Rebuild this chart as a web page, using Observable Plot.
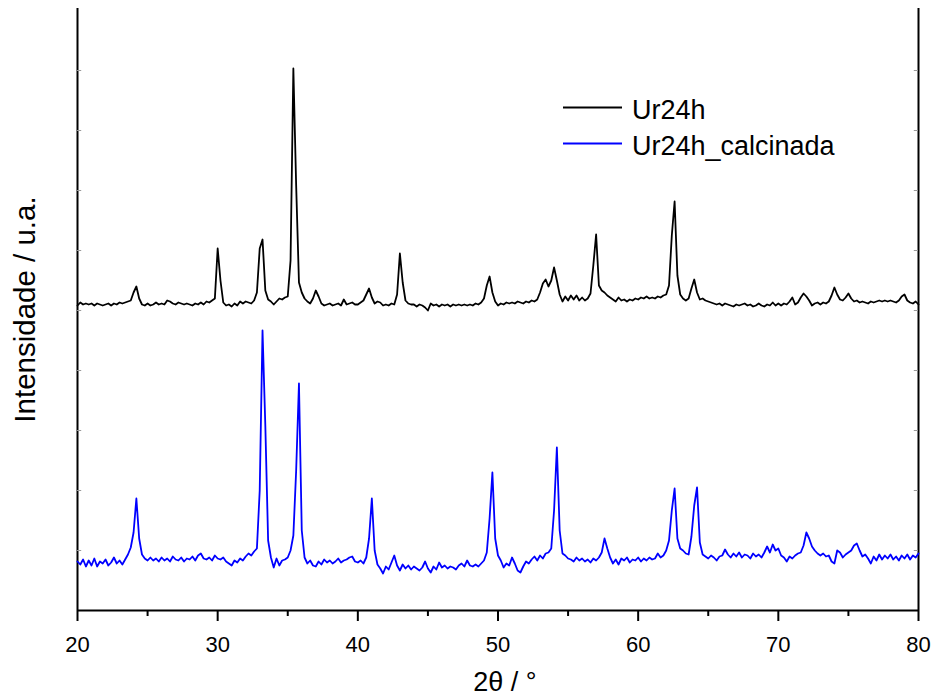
<!DOCTYPE html>
<html>
<head>
<meta charset="utf-8">
<script src="https://cdn.jsdelivr.net/npm/d3@7"></script>
<script src="https://cdn.jsdelivr.net/npm/@observablehq/plot@0.6"></script>
<style>
  html, body { margin: 0; padding: 0; background: #fff; }
  #wrap { position: relative; width: 933px; height: 700px; font-family: "Liberation Sans", Arial, sans-serif; }
  #legend { position: absolute; left: 0; top: 0; pointer-events: none; }
</style>
</head>
<body>
<div id="wrap"></div>
<script>
// ---- data (2θ grid: start 20°, step 0.2°) ----
const twoThetaStart = 20;
const twoThetaStep = 0.2;

const ur24h = [
  305, 308, 306, 307, 306, 307, 305, 307, 306, 305,
  306, 307, 305, 307, 306, 308, 307, 308, 309, 310,
  318, 324, 312, 306, 305, 307, 305, 306, 308, 306,
  307, 306, 310, 309, 307, 306, 308, 307, 306, 307,
  306, 305, 307, 306, 308, 306, 309, 308, 310, 312,
  362, 330, 308, 305, 306, 304, 307, 305, 309, 307,
  309, 308, 307, 310, 318, 362, 371, 320, 311, 309,
  306, 309, 312, 311, 313, 314, 350, 542, 425, 328,
  318, 312, 309, 307, 312, 320, 314, 307, 305, 306,
  307, 305, 306, 307, 305, 311, 306, 307, 308, 306,
  306, 308, 310, 316, 322, 313, 307, 309, 308, 305,
  306, 305, 307, 306, 316, 357, 328, 310, 307, 306,
  306, 304, 306, 305, 303, 300, 307, 305, 306, 304,
  306, 305, 306, 304, 306, 305, 306, 305, 306, 305,
  306, 305, 307, 306, 308, 312, 325, 334, 318, 309,
  305, 307, 306, 308, 307, 308, 307, 309, 308, 307,
  309, 308, 310, 309, 311, 318, 327, 331, 324, 330,
  343, 330, 316, 309, 314, 310, 315, 311, 315, 310,
  313, 310, 312, 317, 345, 376, 325, 320, 318, 315,
  313, 311, 309, 313, 310, 311, 309, 311, 310, 312,
  311, 313, 312, 314, 312, 313, 312, 314, 313, 315,
  316, 325, 375, 409, 335, 316, 312, 310, 312, 322,
  331, 318, 311, 312, 310, 309, 308, 307, 306, 307,
  305, 307, 306, 305, 304, 306, 305, 306, 307, 305,
  306, 304, 305, 307, 305, 304, 306, 305, 308, 305,
  307, 305, 307, 306, 309, 313, 306, 308, 313, 317,
  314, 310, 305, 307, 308, 306, 308, 307, 309, 315,
  323, 316, 311, 310, 313, 317, 312, 309, 310, 308,
  309, 308, 307, 309, 308, 309, 310, 309, 310, 309,
  310, 309, 308, 310, 314, 316, 310, 308, 307, 309,
  306
];

const ur24hCalcinada = [
  49, 46, 51, 44, 50, 45, 52, 44, 49, 47,
  51, 45, 48, 53, 47, 50, 46, 51, 56, 63,
  78, 112, 72, 56, 52, 50, 53, 50, 52, 49,
  53, 50, 52, 49, 54, 51, 50, 53, 49, 52,
  51, 54, 50, 55, 57, 52, 51, 53, 50, 55,
  52, 51, 53, 49, 47, 45, 50, 48, 52, 50,
  54, 57, 55, 59, 62, 120, 280, 185, 70, 53,
  43, 52, 45, 50, 51, 53, 60, 75, 140, 227,
  80, 53, 47, 50, 45, 44, 49, 46, 51, 48,
  50, 47, 49, 52, 48, 50, 51, 53, 54, 49,
  48, 50, 47, 53, 72, 112, 60, 46, 42, 37,
  44, 41, 48, 55, 45, 40, 46, 42, 45, 41,
  44, 42, 40, 43, 49, 42, 38, 44, 41, 48,
  43, 45, 42, 44, 43, 41, 45, 47, 44, 50,
  45, 44, 46, 44, 47, 50, 58, 92, 138, 72,
  55, 50, 43, 47, 45, 53, 47, 40, 38, 44,
  49, 47, 51, 54, 50, 55, 52, 57, 58, 62,
  100, 163, 80, 57, 55, 52, 51, 49, 53, 50,
  52, 49, 51, 48, 52, 50, 53, 58, 72, 62,
  53, 47, 51, 46, 52, 50, 53, 48, 51, 50,
  53, 49, 52, 50, 53, 51, 52, 57, 53, 55,
  60, 70, 100, 122, 72, 62, 60, 57, 56, 74,
  105, 123, 68, 56, 54, 52, 55, 53, 50, 54,
  55, 61, 56, 53, 57, 54, 58, 53, 56, 55,
  52, 57, 54, 56, 53, 58, 64, 58, 66, 60,
  62, 55, 53, 49, 54, 52, 55, 57, 58, 65,
  78, 72, 64, 60, 57, 55, 57, 54, 55, 49,
  47, 60, 58, 53, 56, 58, 60, 65, 67, 60,
  54, 56, 52, 47, 54, 50, 56, 51, 55, 52,
  56, 51, 54, 50, 55, 52, 56, 51, 55, 53,
  57
];

const seriesNames = ["Ur24h", "Ur24h_calcinada"];
const seriesColors = ["#000000", "#0000ff"];
const xMajorTicks = [20, 30, 40, 50, 60, 70, 80];
const xMinorTicks = [25, 35, 45, 55, 65, 75];
const yTicks = [60, 120, 180, 240, 300, 360, 420, 480, 540];
const xTitle = "2θ / °";
const yTitle = "Intensidade / u.a.";

// ---- build table ----
const toRows = (vals, name) => vals.map((v, i) => ({
  twoTheta: Math.round((twoThetaStart + i * twoThetaStep) * 10) / 10,
  intensity: v,
  series: name
}));
const rowsA = toRows(ur24h, seriesNames[0]);
const rowsB = toRows(ur24hCalcinada, seriesNames[1]);

const chart = Plot.plot({
  width: 933,
  height: 700,
  marginTop: 8,
  marginBottom: 90,
  marginLeft: 77,
  marginRight: 15,
  style: { fontFamily: "'Liberation Sans', Arial, sans-serif", background: "#fff", color: "#000" },
  x: { domain: [20, 80] },
  y: { domain: [0, 602], axis: null },
  marks: [
    // frame lines (left, right, bottom)
    Plot.ruleX([20, 80], { x: d => d, y1: 0, y2: 602, stroke: "#000", strokeWidth: 2 }),
    Plot.ruleY([0], { y: d => d, stroke: "#000", strokeWidth: 2 }),
    // x ticks
    Plot.ruleX(xMajorTicks, { x: d => d, y1: 0, y2: -11, stroke: "#000", strokeWidth: 2, clip: false }),
    Plot.ruleX(xMinorTicks, { x: d => d, y1: 0, y2: -6, stroke: "#000", strokeWidth: 2, clip: false }),
    Plot.axisX(xMajorTicks, { tickSize: 0, tickPadding: 26, fontSize: 22, label: null }),
    // faint inward y ticks on both sides
    Plot.ruleY(yTicks, { y: d => d, x1: 20, x2: 20.3, stroke: "#999", strokeWidth: 1 }),
    Plot.ruleY(yTicks, { y: d => d, x1: 79.7, x2: 80, stroke: "#999", strokeWidth: 1 }),
    // data
    Plot.line(rowsA, { x: "twoTheta", y: "intensity", stroke: seriesColors[0], strokeWidth: 1.8, strokeLinejoin: "round" }),
    Plot.line(rowsB, { x: "twoTheta", y: "intensity", stroke: seriesColors[1], strokeWidth: 1.8, strokeLinejoin: "round" }),
    // axis titles
    Plot.text([xTitle], { text: d => d, frameAnchor: "bottom", lineAnchor: "middle", textAnchor: "middle", dy: 72, dx: 7, fontSize: 27, fill: "#000" }),
    Plot.text([yTitle], { text: d => d, frameAnchor: "left", textAnchor: "middle", lineAnchor: "middle", dx: -52, rotate: -90, fontSize: 29.5, fill: "#000" })
  ]
});

const wrap = document.getElementById("wrap");
wrap.appendChild(chart);

// legend
const ns = "http://www.w3.org/2000/svg";
const leg = document.createElementNS(ns, "svg");
leg.setAttribute("id", "legend");
leg.setAttribute("width", 933);
leg.setAttribute("height", 700);
seriesNames.forEach((name, i) => {
  const yLine = 107.5 + i * 36;
  const line = document.createElementNS(ns, "line");
  line.setAttribute("x1", 563); line.setAttribute("x2", 622);
  line.setAttribute("y1", yLine); line.setAttribute("y2", yLine);
  line.setAttribute("stroke", seriesColors[i]);
  line.setAttribute("stroke-width", 2);
  leg.appendChild(line);
  const t = document.createElementNS(ns, "text");
  t.setAttribute("x", 632);
  t.setAttribute("y", yLine + 11.5);
  t.setAttribute("font-size", 27);
  t.setAttribute("font-family", "'Liberation Sans', Arial, sans-serif");
  t.setAttribute("fill", "#000");
  t.textContent = name;
  leg.appendChild(t);
});
wrap.appendChild(leg);
</script>
</body>
</html>
